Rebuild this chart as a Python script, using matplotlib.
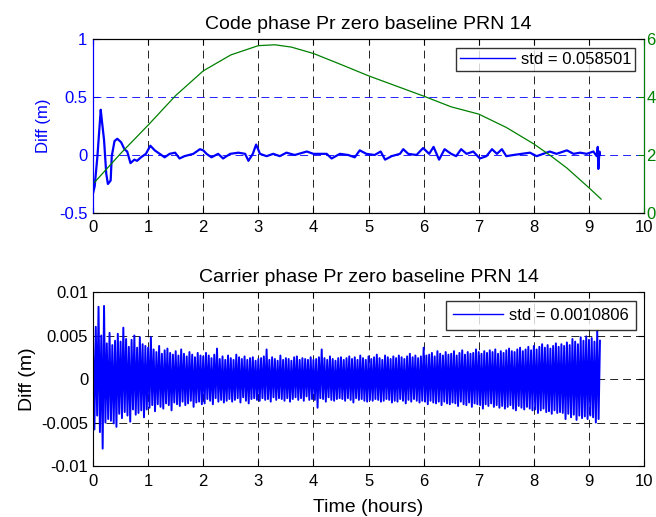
import numpy as np
import matplotlib
matplotlib.use("Agg")
import matplotlib.pyplot as plt

plt.rcParams['font.family'] = ['Liberation Sans', 'DejaVu Sans']

# ---- Top panel: code phase difference (m) ----
code_t = [0.0, 0.03, 0.08, 0.14, 0.16, 0.20, 0.24, 0.27, 0.32, 0.34, 0.39, 0.44,
          0.51, 0.57, 0.62, 0.68, 0.75, 0.80, 0.87, 0.96, 1.04, 1.12, 1.21, 1.30,
          1.39, 1.49, 1.57, 1.66, 1.82, 1.94, 2.00, 2.06, 2.15, 2.27, 2.36, 2.49,
          2.64, 2.76, 2.82, 2.90, 2.96, 3.03, 3.15, 3.27, 3.39, 3.51, 3.66, 3.88,
          4.00, 4.12, 4.24, 4.33, 4.48, 4.63, 4.75, 4.84, 4.96, 5.11, 5.22, 5.30,
          5.42, 5.57, 5.63, 5.72, 5.87, 5.99, 6.10, 6.18, 6.28, 6.38, 6.50, 6.59,
          6.68, 6.78, 6.90, 7.02, 7.14, 7.24, 7.33, 7.42, 7.50, 7.63, 7.78, 7.93,
          8.05, 8.17, 8.29, 8.41, 8.60, 8.72, 8.84, 8.96, 9.08, 9.14, 9.16, 9.17,
          9.19, 9.20]
code_diff = [-0.33, -0.27, -0.01, 0.39, 0.30, 0.13, -0.16, -0.25, -0.22, -0.01, 0.12, 0.14,
             0.11, 0.05, 0.03, -0.07, -0.04, -0.05, -0.02, 0.01, 0.08, 0.04, 0.01, -0.02,
             0.01, 0.02, -0.03, -0.01, 0.01, 0.05, 0.04, 0.01, -0.02, 0.01, -0.03, 0.01,
             0.02, 0.01, -0.05, 0.01, 0.09, 0.01, -0.01, 0.01, -0.01, 0.02, 0.00, 0.03,
             0.01, 0.01, 0.01, -0.03, 0.01, 0.00, -0.02, 0.04, 0.01, 0.00, 0.03, -0.04,
             -0.01, 0.01, 0.05, 0.01, 0.00, 0.06, 0.01, 0.07, -0.04, 0.05, 0.01, -0.01,
             0.05, 0.01, 0.03, -0.03, -0.01, 0.05, 0.01, 0.05, -0.01, 0.00, 0.01, 0.02,
             -0.01, 0.01, 0.03, 0.01, 0.04, 0.01, 0.02, 0.01, 0.03, -0.01, 0.07, -0.12,
             0.03, 0.00]

# elevation-like curve on right axis
elev_t = [0.0, 0.5, 1.0, 1.5, 2.0, 2.5, 3.0, 3.3, 3.6, 4.0, 4.5, 5.0, 5.5,
          6.0, 6.5, 7.0, 7.5, 8.0, 8.3, 8.6, 9.0, 9.22]
elev = [1.0, 2.05, 3.03, 4.05, 4.9, 5.45, 5.77, 5.8, 5.72, 5.5, 5.12, 4.73, 4.38,
        4.03, 3.66, 3.41, 2.95, 2.38, 1.98, 1.55, 0.87, 0.48]

code_std_label = "std = 0.058501"

# ---- Bottom panel: carrier phase difference (x1e-3 m), sampled every 0.025 h ----
carrier_dt = 0.025
carrier_mm = [
    4.6, -5.8, 6.0, -4.2, 8.3, -6.1, 5.0, -8.0, 8.4, -5.0, 4.1, -4.6, 5.3, -4.8, 3.9, -5.1, 4.4, -5.5, 5.2, -4.0,
    4.3, -4.5, 5.9, -3.8, 4.6, -4.2, 3.7, -4.9, 4.5, -3.5, 5.0, -4.1, 3.6, -3.9, 4.8, -3.6, 4.0, -4.4, 3.8, -3.5,
    3.6, -3.3, 4.8, -3.0, 3.4, -3.7, 3.1, -2.9, 3.8, -3.2, 2.9, -3.4, 3.3, -2.8, 3.5, -3.0, 3.0, -3.6, 2.8, -2.7,
    3.2, -2.9, 2.7, -3.1, 3.4, -2.6, 2.9, -3.0, 2.6, -2.8, 3.1, -2.5, 2.8, -3.2, 2.5, -2.7, 3.0, -2.6, 2.7, -2.9,
    2.6, -2.8, 3.0, -2.3, 2.7, -2.5, 2.4, -2.9, 2.8, -2.2, 3.5, -2.6, 2.3, -2.4, 2.6, -2.7, 2.2, -2.5, 2.7, -2.3,
    2.4, -2.6, 2.2, -2.4, 2.8, -2.2, 2.5, -2.7, 2.3, -2.1, 2.6, -2.5, 2.2, -2.8, 2.4, -2.3, 2.5, -2.2, 2.1, -2.4,
    2.3, -2.5, 2.4, -2.2, 2.6, -2.4, 3.4, -2.3, 2.2, -2.6, 2.5, -2.1, 2.3, -2.4, 2.1, -2.2, 2.7, -2.3, 2.2, -2.5,
    2.4, -2.2, 2.3, -2.6, 2.1, -2.3, 2.5, -2.1, 2.6, -2.4, 2.2, -2.2, 2.4, -2.5, 2.3, -2.0, 2.2, -2.4, 2.5, -2.3,
    2.2, -2.4, 2.3, -3.3, 2.5, -2.2, 3.4, -2.3, 2.4, -2.6, 2.2, -2.1, 2.6, -2.4, 2.3, -2.5, 2.1, -2.3, 2.4, -2.2,
    2.5, -2.3, 2.2, -2.5, 2.4, -2.2, 2.6, -2.4, 2.3, -2.7, 2.5, -2.2, 2.2, -2.4, 2.7, -2.3, 2.4, -2.5, 2.2, -2.6,
    2.6, -2.4, 2.3, -2.5, 2.5, -2.3, 2.8, -2.4, 2.4, -2.6, 2.2, -2.5, 2.7, -2.3, 2.5, -2.4, 2.3, -2.7, 2.6, -2.5,
    2.4, -2.6, 2.7, -2.3, 2.5, -2.5, 2.3, -2.8, 2.6, -2.4, 2.9, -2.6, 2.5, -2.3, 2.7, -2.5, 2.4, -2.7, 2.6, -2.5,
    3.6, -2.6, 2.7, -2.9, 2.8, -2.5, 3.0, -2.7, 2.6, -2.8, 3.2, -2.6, 2.9, -3.0, 2.7, -2.6, 3.1, -2.8, 2.8, -2.9,
    2.9, -2.7, 3.2, -2.8, 2.7, -3.1, 3.0, -2.6, 3.3, -2.9, 2.8, -3.0, 3.1, -2.7, 2.9, -3.2, 3.0, -2.8, 3.4, -2.9,
    3.1, -3.0, 2.9, -3.4, 3.2, -2.9, 3.0, -3.1, 3.3, -2.8, 3.1, -3.2, 3.4, -3.0, 2.9, -3.3, 3.2, -3.1, 3.0, -3.4,
    3.3, -3.2, 3.5, -3.0, 3.2, -3.4, 3.1, -3.6, 3.4, -3.1, 3.6, -3.3, 3.2, -3.5, 3.4, -3.2, 3.7, -3.4, 3.3, -3.6,
    3.8, -3.5, 3.4, -3.9, 3.7, -3.6, 4.0, -3.4, 3.6, -3.8, 3.9, -3.7, 3.5, -4.0, 3.8, -3.6, 4.1, -3.9, 3.7, -3.8,
    4.0, -3.9, 3.8, -4.6, 4.2, -4.0, 3.9, -4.4, 4.6, -4.1, 4.3, -4.7, 4.0, -4.2, 4.8, -4.5, 4.4, -4.3, 4.9, -4.6,
    4.5, -4.2, 4.7, -4.4, 4.3, -5.0, 5.5, -4.6, 4.4,
]
carrier_std_label = "std = 0.0010806"

x_ticks = [0, 1, 2, 3, 4, 5, 6, 7, 8, 9, 10]

BLUE = (0, 0, 1)
GREEN = (0, 0.5, 0)
DASH = (0, (9.5, 6))

fig = plt.figure(figsize=(6.56, 5.17), dpi=100)

# ---------------- top ----------------
ax1 = fig.add_axes([0.1418, 0.588, 0.840, 0.3366])
ax1.plot(code_t, code_diff, color=BLUE, lw=1.6, label=code_std_label, zorder=3)
ax1.set_xlim(0, 10)
ax1.set_ylim(-0.5, 1)
ax1.set_xticks(x_ticks)
ax1.set_yticks([-0.5, 0, 0.5, 1])
ax1.set_yticklabels(['-0.5', '0', '0.5', '1'])
ax1.tick_params(axis='both', direction='in', labelsize=12, top=True, length=4)
ax1.tick_params(axis='x', pad=5)
ax1.tick_params(axis='y', colors=BLUE, labelcolor=BLUE, pad=4)
ax1.spines['left'].set_color(BLUE)
ax1.xaxis.grid(True, color='black', linestyle=DASH, lw=0.6)
ax1.yaxis.grid(True, color=BLUE, linestyle=DASH, lw=0.6)
ax1.set_ylabel("Diff (m)", color=BLUE, fontsize=12, labelpad=6)
ax1.set_title("Code phase Pr zero baseline PRN 14", fontsize=14, pad=7)
leg1 = ax1.legend(loc='upper right', fontsize=12, frameon=True, fancybox=False,
                  edgecolor='black', handlelength=3.3, handletextpad=0.35,
                  borderpad=0.25, borderaxespad=0.0,
                  bbox_to_anchor=(0.984, 0.948))
leg1.get_frame().set_linewidth(1.0)
for l in leg1.get_lines():
    l.set_linewidth(1.0)

ax2 = ax1.twinx()
ax2.plot(elev_t, elev, color=GREEN, lw=0.9)
ax2.set_ylim(0, 6)
ax2.set_yticks([0, 2, 4, 6])
ax2.tick_params(axis='y', direction='in', colors=GREEN, labelcolor=GREEN,
                labelsize=12, length=4, pad=1.5)
ax2.spines['right'].set_color(GREEN)
ax2.spines['left'].set_color(BLUE)

# ---------------- bottom ----------------
ax3 = fig.add_axes([0.1418, 0.0986, 0.840, 0.3366])
carrier_t = np.arange(len(carrier_mm)) * carrier_dt
carrier = np.array(carrier_mm) * 1e-3
ax3.plot(carrier_t, carrier, color=BLUE, lw=1.4, label=carrier_std_label)
ax3.set_xlim(0, 10)
ax3.set_ylim(-0.01, 0.01)
ax3.set_xticks(x_ticks)
ax3.set_yticks([-0.01, -0.005, 0, 0.005, 0.01])
ax3.set_yticklabels(['-0.01', '-0.005', '0', '0.005', '0.01'])
ax3.tick_params(axis='both', direction='in', labelsize=12, top=True, right=True, length=4)
ax3.tick_params(axis='x', pad=6)
ax3.grid(True, color='black', linestyle=DASH, lw=0.6)
ax3.set_ylabel("Diff (m)", fontsize=14, labelpad=4)
ax3.set_xlabel("Time (hours)", fontsize=14, labelpad=7)
ax3.set_title("Carrier phase Pr zero baseline PRN 14", fontsize=14, pad=7)
leg3 = ax3.legend(loc='upper right', fontsize=12, frameon=True, fancybox=False,
                  edgecolor='black', handlelength=3.0, handletextpad=0.35,
                  borderpad=0.42, borderaxespad=0.0,
                  bbox_to_anchor=(0.9855, 0.948))
leg3.get_frame().set_linewidth(1.0)
for l in leg3.get_lines():
    l.set_linewidth(1.0)

fig.savefig("out.png", dpi=100)
